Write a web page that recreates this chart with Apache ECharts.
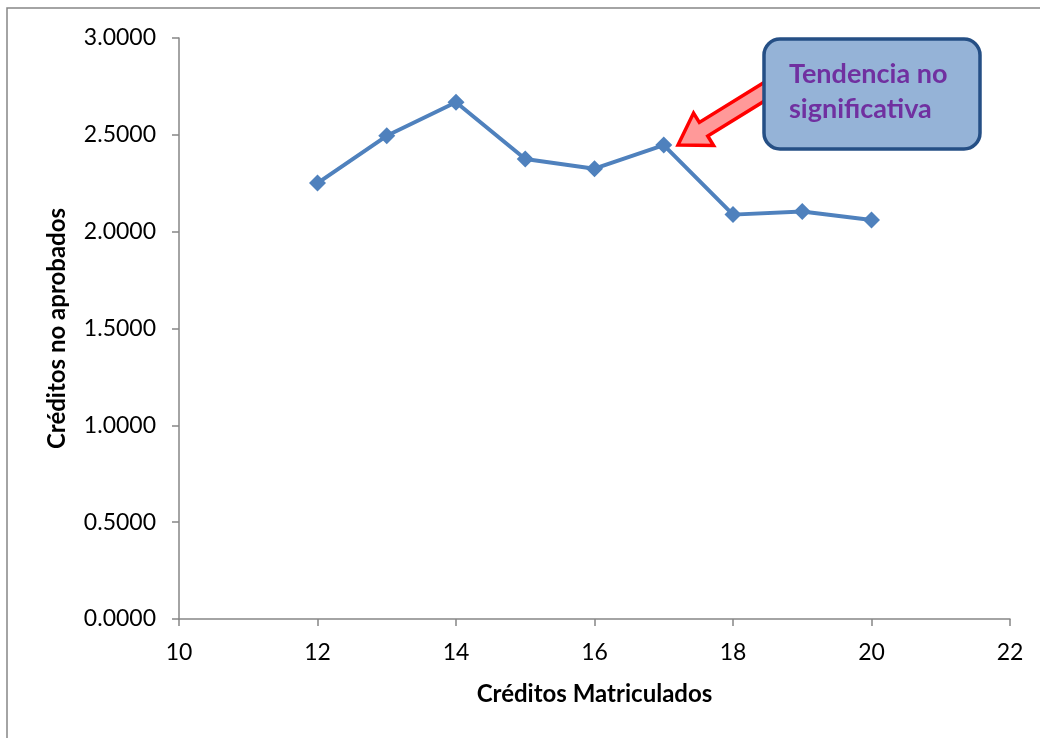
<!DOCTYPE html>
<html><head><meta charset="utf-8">
<script src="https://cdn.jsdelivr.net/npm/echarts@6/dist/echarts.min.js"></script>
<style>html,body{margin:0;padding:0;background:#fff}#c{width:1040px;height:738px}</style>
</head><body><div id="c"></div>
<script>
var creditos = [12, 13, 14, 15, 16, 17, 18, 19, 20];
var noAprobados = [2.251, 2.495, 2.668, 2.375, 2.325, 2.447, 2.088, 2.104, 2.060];
var xTicks = [10, 12, 14, 16, 18, 20, 22];
var yTicks = [0, 0.5, 1.0, 1.5, 2.0, 2.5, 3.0];
var annotationText = ['Tendencia no', 'significativa'];

var font = 'Lato, "Open Sans", sans-serif';
var chart = echarts.init(document.getElementById('c'));

// arrow geometry
var T = [678, 145], tail = [780, 82];
var dx = tail[0]-T[0], dy = tail[1]-T[1], L = Math.sqrt(dx*dx+dy*dy);
var u = [dx/L, dy/L], n = [-u[1], u[0]];
function P(base, a, b){ return [base[0]+u[0]*a+n[0]*b, base[1]+u[1]*a+n[1]*b]; }
var arrowPts = [T, P(T,30,19), P(T,30,8), P(tail,0,8), P(tail,0,-8), P(T,30,-8), P(T,30,-19)];

chart.setOption({
  animation: false,
  grid: {left: 179, right: 30, top: 38, bottom: 119},
  xAxis: {
    type: 'value', min: xTicks[0], max: xTicks[xTicks.length-1], interval: 2,
    name: 'Créditos Matriculados', nameLocation: 'middle', nameGap: 63,
    nameTextStyle: {fontFamily: font, fontWeight: 'bold', fontSize: 24, color: '#000'},
    axisLine: {lineStyle: {color: '#868686', width: 1.5}},
    axisTick: {show: true, length: 7, lineStyle: {color: '#868686', width: 1.5}},
    axisLabel: {fontFamily: font, fontSize: 23, color: '#000', margin: 22},
    splitLine: {show: false}
  },
  yAxis: {
    type: 'value', min: yTicks[0], max: yTicks[yTicks.length-1], interval: 0.5,
    name: 'Créditos no aprobados', nameLocation: 'middle', nameGap: 110,
    nameTextStyle: {fontFamily: font, fontWeight: 'bold', fontSize: 24, color: '#000'},
    axisLine: {show: true, lineStyle: {color: '#868686', width: 1.5}},
    axisTick: {show: true, length: 7, lineStyle: {color: '#868686', width: 1.5}},
    axisLabel: {fontFamily: font, fontSize: 23, color: '#000', margin: 23,
      formatter: function(v){ return v.toFixed(4); }},
    splitLine: {show: false}
  },
  series: [{
    type: 'line',
    data: creditos.map(function(c, i){ return [c, noAprobados[i]]; }),
    symbol: 'diamond', symbolSize: 17,
    lineStyle: {color: '#4F81BD', width: 4},
    itemStyle: {color: '#4F81BD'}
  }],
  graphic: [
    {type: 'rect', shape: {x: 7, y: 8, width: 1100, height: 800},
     style: {fill: 'none', stroke: '#868686', lineWidth: 1.5}, z: 0},
    {type: 'polygon', shape: {points: arrowPts},
     style: {fill: '#FF9999', stroke: '#FF0000', lineWidth: 3.5, lineJoin: 'miter'}, z: 10},
    {type: 'rect', shape: {x: 764, y: 39, width: 216, height: 110, r: 16},
     style: {fill: '#95B3D7', stroke: '#254F85', lineWidth: 3.5}, z: 11},
    {type: 'text', left: 789, top: 57, z: 12,
     style: {text: annotationText.join('\n'), fill: '#7030A0', fontFamily: font,
       fontWeight: 'bold', fontSize: 27, lineHeight: 35}}
  ]
});
</script></body></html>
